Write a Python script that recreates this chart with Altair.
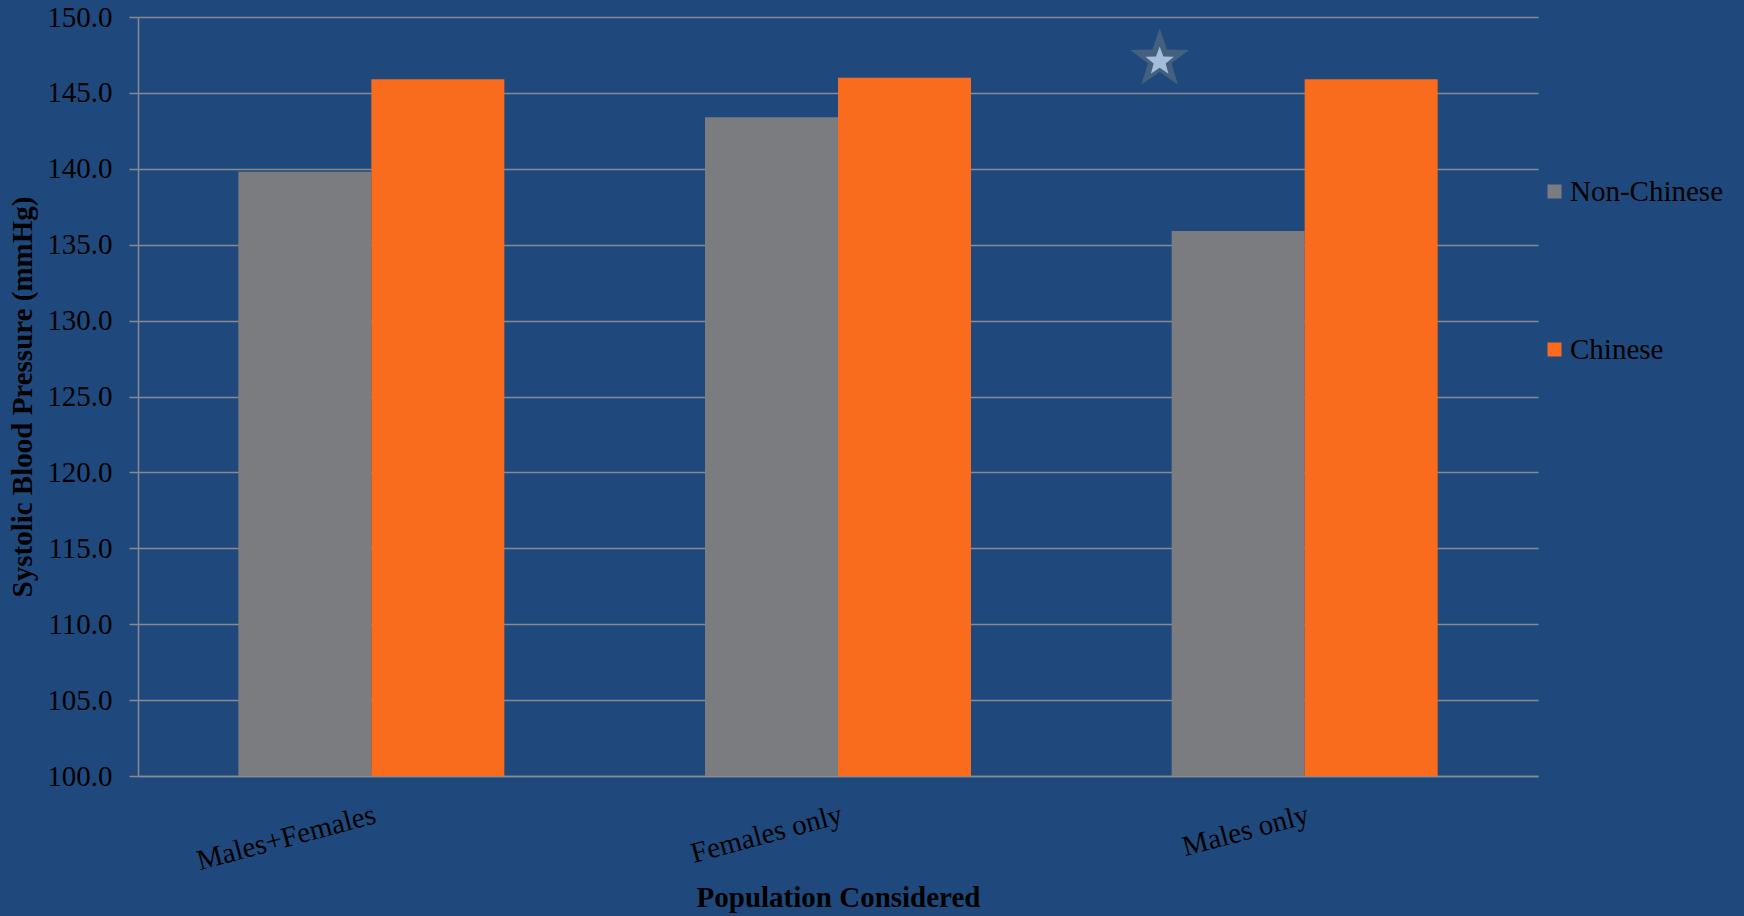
import math
import altair as alt
import pandas as pd

# Mean systolic blood pressure by population group
groups = ["Males+Females", "Females only", "Males only"]
series = ["Non-Chinese", "Chinese"]
non_chinese = [139.8, 143.4, 135.9]
chinese = [145.9, 146.0, 145.9]
series_colors = ["#7B7C80", "#F96B1D"]
y_ticks = [100, 105, 110, 115, 120, 125, 130, 135, 140, 145, 150]

# Significance marker above the male group
marker_group = ["Males only"]
marker_value = [147.2]

BG = "#1F497D"
GRID = "#878A8E"
FONT = "Liberation Serif"
FS = 29

rows = []
for g, a, b in zip(groups, non_chinese, chinese):
    rows.append({"Population": g, "Group": series[0], "SBP": a})
    rows.append({"Population": g, "Group": series[1], "SBP": b})
df = pd.DataFrame(rows)
marker = pd.DataFrame({"Population": marker_group, "SBP": marker_value})


def star_path(inner_ratio):
    """Five-pointed star in the unit box, point up."""
    pts = []
    for k in range(10):
        r = 1.0 if k % 2 == 0 else inner_ratio
        a = math.radians(-90 + 36 * k)
        pts.append(f"{r * math.cos(a):.4f},{r * math.sin(a):.4f}")
    return "M" + " L".join(pts) + " Z"


x_enc = alt.X(
    "Population:N",
    sort=groups,
    scale=alt.Scale(paddingInner=0.43, paddingOuter=0.215),
    axis=alt.Axis(
        title="Population Considered",
        titleFont=FONT,
        titleFontSize=FS,
        titleFontWeight="bold",
        titleColor="black",
        titleY=130,
        titleBaseline="alphabetic",
        labelAngle=345,
        labelAlign="right",
        labelBaseline="top",
        labelPadding=24,
        labelLimit=600,
        labelFont=FONT,
        labelFontSize=FS,
        labelColor="black",
        ticks=False,
        domainColor=GRID,
        domainWidth=1.5,
        grid=False,
    ),
)

y_enc = alt.Y(
    "SBP:Q",
    scale=alt.Scale(domain=[100, 150], zero=False, nice=False),
    axis=alt.Axis(
        title="Systolic Blood Pressure (mmHg)",
        titleFont=FONT,
        titleFontSize=FS,
        titleFontWeight="bold",
        titleColor="black",
        titlePadding=9,
        values=y_ticks,
        format=".1f",
        labelFont=FONT,
        labelFontSize=FS,
        labelColor="black",
        labelPadding=17,
        tickSize=9,
        tickColor=GRID,
        tickWidth=1.5,
        domainColor=GRID,
        domainWidth=1.5,
        gridColor=GRID,
        gridWidth=1.5,
    ),
)

bars = alt.Chart(df).mark_bar().encode(
    x=x_enc,
    xOffset=alt.XOffset("Group:N", sort=series,
                        scale=alt.Scale(paddingInner=0, paddingOuter=0)),
    y=y_enc,
    y2=alt.datum(100),
    color=alt.Color(
        "Group:N",
        sort=series,
        scale=alt.Scale(domain=series, range=series_colors),
        legend=alt.Legend(
            title=None,
            orient="none",
            direction="vertical",
            legendX=1402,
            legendY=160,
            padding=0,
            symbolType="square",
            symbolSize=196,
            symbolStrokeWidth=0,
            symbolOpacity=1,
            labelFont=FONT,
            labelFontSize=FS,
            labelColor="black",
            labelOffset=1,
            rowPadding=128,
        ),
    ),
)

star_outer = alt.Chart(marker).mark_point(
    shape=star_path(0.4), filled=True, size=3844, color="#43607F",
    opacity=1, xOffset=-145,
).encode(x=alt.X("Population:N", sort=groups), y=alt.Y("SBP:Q"))

star_inner = alt.Chart(marker).mark_point(
    shape=star_path(0.42), filled=True, size=900, color="#A6BCDB",
    opacity=1, xOffset=-145, yOffset=2,
).encode(x=alt.X("Population:N", sort=groups), y=alt.Y("SBP:Q"))

chart = (
    alt.layer(bars, star_outer, star_inner)
    .properties(
        width=1400,
        height=759,
        autosize=alt.AutoSizeParams(type="none"),
        padding={"left": 138, "top": 17, "right": 206, "bottom": 140},
        background=BG,
    )
    .configure_view(stroke=None)
)

chart.save("out.html", embed_options={"renderer": "svg", "actions": False})
